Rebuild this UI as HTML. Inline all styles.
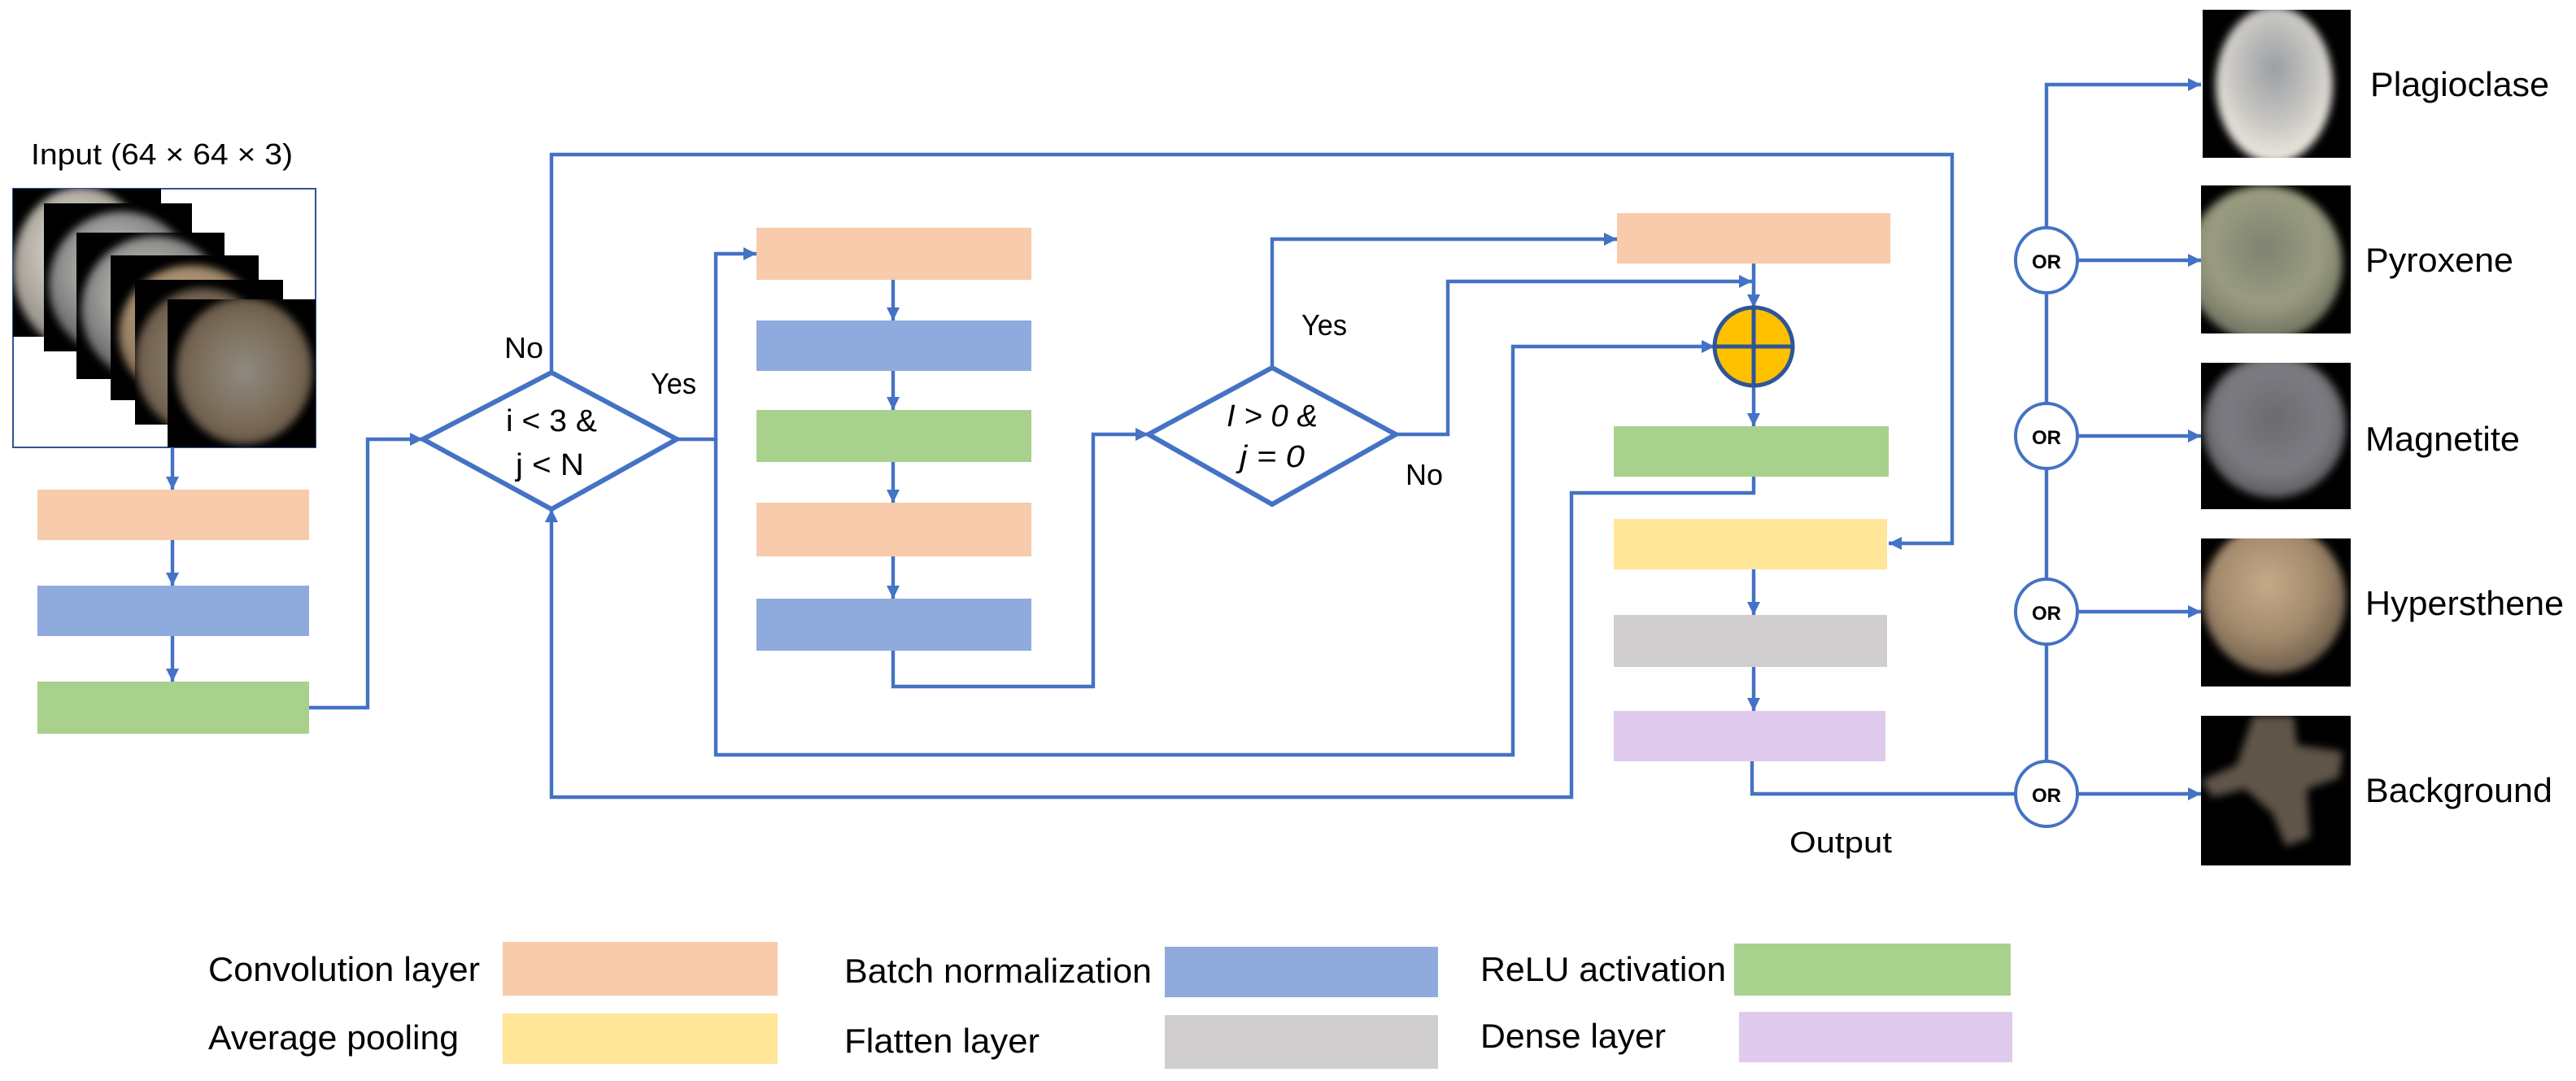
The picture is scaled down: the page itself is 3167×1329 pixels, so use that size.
<!DOCTYPE html>
<html><head><meta charset="utf-8"><style>
html,body{margin:0;padding:0;background:#fff;}
svg{display:block;}
text{font-family:"Liberation Sans",Arial,sans-serif;fill:#000;}
</style></head><body>
<svg width="3167" height="1329" viewBox="0 0 1583.5 664.5" xmlns="http://www.w3.org/2000/svg">
<defs>
<marker id="ah" markerUnits="userSpaceOnUse" markerWidth="9" markerHeight="9" refX="8" refY="4.5" orient="auto"><path d="M0,0.5 L8,4.5 L0,8.5 z" fill="#4472C4"/></marker>
<filter id="bl" x="-20%" y="-20%" width="140%" height="140%"><feGaussianBlur stdDeviation="2.5"/></filter>
<radialGradient id="gW" cx="45%" cy="40%" r="60%"><stop offset="0" stop-color="#f2eee6"/><stop offset="0.5" stop-color="#bdb7ae"/><stop offset="1" stop-color="#8c877f"/></radialGradient>
<radialGradient id="gG" cx="45%" cy="40%" r="60%"><stop offset="0" stop-color="#d8d6d2"/><stop offset="0.6" stop-color="#8f8f8d"/><stop offset="1" stop-color="#5b5b5a"/></radialGradient>
<radialGradient id="gT" cx="45%" cy="40%" r="60%"><stop offset="0" stop-color="#c4ab88"/><stop offset="0.6" stop-color="#a38a6c"/><stop offset="1" stop-color="#6f5f4d"/></radialGradient>
<radialGradient id="gB" cx="50%" cy="50%" r="60%"><stop offset="0" stop-color="#8f8a80"/><stop offset="0.6" stop-color="#7b6b58"/><stop offset="1" stop-color="#5a4c3e"/></radialGradient>
<radialGradient id="gP" cx="50%" cy="40%" r="60%"><stop offset="0" stop-color="#7f8272"/><stop offset="0.6" stop-color="#9a9c80"/><stop offset="1" stop-color="#6e7060"/></radialGradient>
<radialGradient id="gM" cx="50%" cy="45%" r="60%"><stop offset="0" stop-color="#6a6a70"/><stop offset="0.6" stop-color="#7c7c82"/><stop offset="1" stop-color="#56565a"/></radialGradient>
<radialGradient id="gL" cx="50%" cy="40%" r="60%"><stop offset="0" stop-color="#9a9ea4"/><stop offset="0.6" stop-color="#c9c7c2"/><stop offset="1" stop-color="#eeeae2"/></radialGradient>
<clipPath id="c1"><rect x="8" y="116" width="91" height="91"/></clipPath>
<clipPath id="c2"><rect x="27" y="125" width="91" height="91"/></clipPath>
<clipPath id="c3"><rect x="47" y="143" width="91" height="90"/></clipPath>
<clipPath id="c4"><rect x="68" y="157" width="91" height="89"/></clipPath>
<clipPath id="c5"><rect x="83" y="172" width="91" height="89"/></clipPath>
<clipPath id="c6"><rect x="103" y="184" width="91" height="91"/></clipPath>
<clipPath id="r1"><rect x="1354" y="6" width="91" height="91"/></clipPath>
<clipPath id="r2"><rect x="1353" y="114" width="92" height="91"/></clipPath>
<clipPath id="r3"><rect x="1353" y="223" width="92" height="90"/></clipPath>
<clipPath id="r4"><rect x="1353" y="331" width="92" height="91"/></clipPath>
<clipPath id="r5"><rect x="1353" y="440" width="92" height="92"/></clipPath>
</defs>

<!-- input stack -->
<rect x="8" y="116" width="186" height="159" fill="none" stroke="#2F5597" stroke-width="1"/>
<g clip-path="url(#c1)"><rect x="8" y="116" width="91" height="91" fill="#000"/><ellipse cx="50" cy="165" rx="42" ry="50" fill="url(#gW)" filter="url(#bl)"/></g>
<g clip-path="url(#c2)"><rect x="27" y="125" width="91" height="91" fill="#000"/><ellipse cx="75" cy="175" rx="45" ry="45" fill="url(#gG)" filter="url(#bl)"/></g>
<g clip-path="url(#c3)"><rect x="47" y="143" width="91" height="90" fill="#000"/><ellipse cx="95" cy="190" rx="45" ry="45" fill="url(#gG)" filter="url(#bl)"/></g>
<g clip-path="url(#c4)"><rect x="68" y="157" width="91" height="89" fill="#000"/><ellipse cx="118" cy="205" rx="45" ry="42" fill="url(#gT)" filter="url(#bl)"/></g>
<g clip-path="url(#c5)"><rect x="83" y="172" width="91" height="89" fill="#000"/><ellipse cx="125" cy="222" rx="42" ry="45" fill="url(#gB)" filter="url(#bl)"/></g>
<g clip-path="url(#c6)"><rect x="103" y="184" width="91" height="91" fill="#000"/><ellipse cx="150" cy="228" rx="42" ry="45" fill="url(#gB)" filter="url(#bl)"/></g>
<text x="19" y="101" font-size="18" textLength="161" lengthAdjust="spacingAndGlyphs">Input (64 × 64 × 3)</text>

<!-- boxes -->
<g>
<rect x="23" y="301" width="167" height="31" fill="#F7CBAC"/>
<rect x="23" y="360" width="167" height="31" fill="#8FAADC"/>
<rect x="23" y="419" width="167" height="32" fill="#A9D18E"/>
<rect x="465" y="140" width="169" height="32" fill="#F7CBAC"/>
<rect x="465" y="197" width="169" height="31" fill="#8FAADC"/>
<rect x="465" y="252" width="169" height="32" fill="#A9D18E"/>
<rect x="465" y="309" width="169" height="33" fill="#F7CBAC"/>
<rect x="465" y="368" width="169" height="32" fill="#8FAADC"/>
<rect x="994" y="131" width="168" height="31" fill="#F7CBAC"/>
<rect x="992" y="262" width="169" height="31" fill="#A9D18E"/>
<rect x="992" y="319" width="168" height="31" fill="#FFE699"/>
<rect x="992" y="378" width="168" height="32" fill="#D0CECE"/>
<rect x="992" y="437" width="167" height="31" fill="#E0CAEE"/>
</g>

<!-- connectors -->
<g fill="none" stroke="#4472C4" stroke-width="2.2">
<path d="M106,275 L106,301" marker-end="url(#ah)"/>
<path d="M106,332 L106,360" marker-end="url(#ah)"/>
<path d="M106,391 L106,419" marker-end="url(#ah)"/>
<path d="M190,435 L226,435 L226,270 L260,270" marker-end="url(#ah)"/>
<path d="M339,229 L339,95 L1200,95 L1200,334 L1161,334" marker-end="url(#ah)"/>
<path d="M416,270 L440,270 L440,156 L465,156" marker-end="url(#ah)"/>
<path d="M440,270 L440,464 L930,464 L930,213 L1054,213" marker-end="url(#ah)"/>
<path d="M549,172 L549,197" marker-end="url(#ah)"/>
<path d="M549,228 L549,252" marker-end="url(#ah)"/>
<path d="M549,284 L549,309" marker-end="url(#ah)"/>
<path d="M549,342 L549,368" marker-end="url(#ah)"/>
<path d="M549,400 L549,422 L672,422 L672,267 L706,267" marker-end="url(#ah)"/>
<path d="M782,226 L782,147 L994,147" marker-end="url(#ah)"/>
<path d="M858,267 L890,267 L890,173 L1077,173" marker-end="url(#ah)"/>
<path d="M1078,162 L1078,189" marker-end="url(#ah)"/>
<path d="M1078,238 L1078,262" marker-end="url(#ah)"/>
<path d="M1078,293 L1078,303 L966,303 L966,490 L339,490 L339,313" marker-end="url(#ah)"/>
<path d="M1078,350 L1078,378" marker-end="url(#ah)"/>
<path d="M1078,410 L1078,437" marker-end="url(#ah)"/>
<path d="M1077,468 L1077,488 L1239,488"/>
<path d="M1258,141 L1258,52 L1353,52" marker-end="url(#ah)"/>
<path d="M1258,180 L1258,248 M1258,288 L1258,356 M1258,396 L1258,468"/>
<path d="M1277,160 L1353,160" marker-end="url(#ah)"/>
<path d="M1277,268 L1353,268" marker-end="url(#ah)"/>
<path d="M1277,376 L1353,376" marker-end="url(#ah)"/>
<path d="M1277,488 L1353,488" marker-end="url(#ah)"/>
</g>

<!-- diamonds -->
<polygon points="339,229 416,270 339,313 260,270" fill="#fff" stroke="#4472C4" stroke-width="3"/>
<polygon points="782,226 858,267 782,310 706,267" fill="#fff" stroke="#4472C4" stroke-width="3"/>
<text x="311" y="265" font-size="19" textLength="56" lengthAdjust="spacingAndGlyphs">i &lt; 3 &amp;</text>
<text x="317" y="292" font-size="19" textLength="42" lengthAdjust="spacingAndGlyphs">j &lt; N</text>
<text x="754" y="262" font-size="19" font-style="italic" textLength="56" lengthAdjust="spacingAndGlyphs">I &gt; 0 &amp;</text>
<text x="762" y="287" font-size="19" font-style="italic" textLength="40" lengthAdjust="spacingAndGlyphs">j = 0</text>
<text x="310" y="220" font-size="18" textLength="24" lengthAdjust="spacingAndGlyphs">No</text>
<text x="400" y="242" font-size="18" textLength="28" lengthAdjust="spacingAndGlyphs">Yes</text>
<text x="800" y="206" font-size="18" textLength="28" lengthAdjust="spacingAndGlyphs">Yes</text>
<text x="864" y="298" font-size="18" textLength="23" lengthAdjust="spacingAndGlyphs">No</text>

<!-- adder -->
<circle cx="1078" cy="213" r="24" fill="#FFC000" stroke="#2F5597" stroke-width="2.5"/>
<path d="M1078,189 L1078,237 M1054,213 L1102,213" stroke="#2F5597" stroke-width="2.5"/>

<text x="1100" y="524" font-size="18" textLength="63" lengthAdjust="spacingAndGlyphs">Output</text>

<!-- OR nodes -->
<g fill="#fff" stroke="#4472C4" stroke-width="2">
<ellipse cx="1258" cy="160" rx="19" ry="20"/>
<ellipse cx="1258" cy="268" rx="19" ry="20"/>
<ellipse cx="1258" cy="376" rx="19" ry="20"/>
<ellipse cx="1258" cy="488" rx="19" ry="20"/>
</g>
<g font-size="12" font-weight="bold">
<text x="1249" y="165" textLength="18" lengthAdjust="spacingAndGlyphs">OR</text>
<text x="1249" y="273" textLength="18" lengthAdjust="spacingAndGlyphs">OR</text>
<text x="1249" y="381" textLength="18" lengthAdjust="spacingAndGlyphs">OR</text>
<text x="1249" y="493" textLength="18" lengthAdjust="spacingAndGlyphs">OR</text>
</g>

<!-- output images -->
<g clip-path="url(#r1)"><rect x="1354" y="6" width="91" height="91" fill="#000"/><ellipse cx="1398" cy="52" rx="36" ry="48" fill="url(#gL)" filter="url(#bl)"/></g>
<g clip-path="url(#r2)"><rect x="1353" y="114" width="92" height="91" fill="#000"/><ellipse cx="1392" cy="162" rx="48" ry="48" fill="url(#gP)" filter="url(#bl)"/></g>
<g clip-path="url(#r3)"><rect x="1353" y="223" width="92" height="90" fill="#000"/><ellipse cx="1398" cy="262" rx="44" ry="44" fill="url(#gM)" filter="url(#bl)"/></g>
<g clip-path="url(#r4)"><rect x="1353" y="331" width="92" height="91" fill="#000"/><ellipse cx="1398" cy="368" rx="44" ry="46" fill="url(#gT)" filter="url(#bl)"/></g>
<g clip-path="url(#r5)"><rect x="1353" y="440" width="92" height="92" fill="#000"/><path d="M1385,440 L1410,440 L1412,458 L1440,462 L1438,478 L1418,485 L1420,515 L1405,520 L1397,500 L1380,485 L1360,490 L1353,480 L1375,470 Z" fill="#5e554a" filter="url(#bl)"/></g>

<g font-size="21">
<text x="1457" y="59" textLength="110" lengthAdjust="spacingAndGlyphs">Plagioclase</text>
<text x="1454" y="167" textLength="91" lengthAdjust="spacingAndGlyphs">Pyroxene</text>
<text x="1454" y="277" textLength="95" lengthAdjust="spacingAndGlyphs">Magnetite</text>
<text x="1454" y="378" textLength="122" lengthAdjust="spacingAndGlyphs">Hypersthene</text>
<text x="1454" y="493" textLength="115" lengthAdjust="spacingAndGlyphs">Background</text>
</g>

<!-- legend -->
<rect x="309" y="579" width="169" height="33" fill="#F7CBAC"/>
<rect x="309" y="623" width="169" height="31" fill="#FFE699"/>
<rect x="716" y="582" width="168" height="31" fill="#8FAADC"/>
<rect x="716" y="624" width="168" height="33" fill="#D0CECE"/>
<rect x="1066" y="580" width="170" height="32" fill="#A9D18E"/>
<rect x="1069" y="622" width="168" height="31" fill="#E0CAEE"/>
<g font-size="21">
<text x="128" y="603" textLength="167" lengthAdjust="spacingAndGlyphs">Convolution layer</text>
<text x="128" y="645" textLength="154" lengthAdjust="spacingAndGlyphs">Average pooling</text>
<text x="519" y="604" textLength="189" lengthAdjust="spacingAndGlyphs">Batch normalization</text>
<text x="519" y="647" textLength="120" lengthAdjust="spacingAndGlyphs">Flatten layer</text>
<text x="910" y="603" textLength="151" lengthAdjust="spacingAndGlyphs">ReLU activation</text>
<text x="910" y="644" textLength="114" lengthAdjust="spacingAndGlyphs">Dense layer</text>
</g>
</svg>
</body></html>
